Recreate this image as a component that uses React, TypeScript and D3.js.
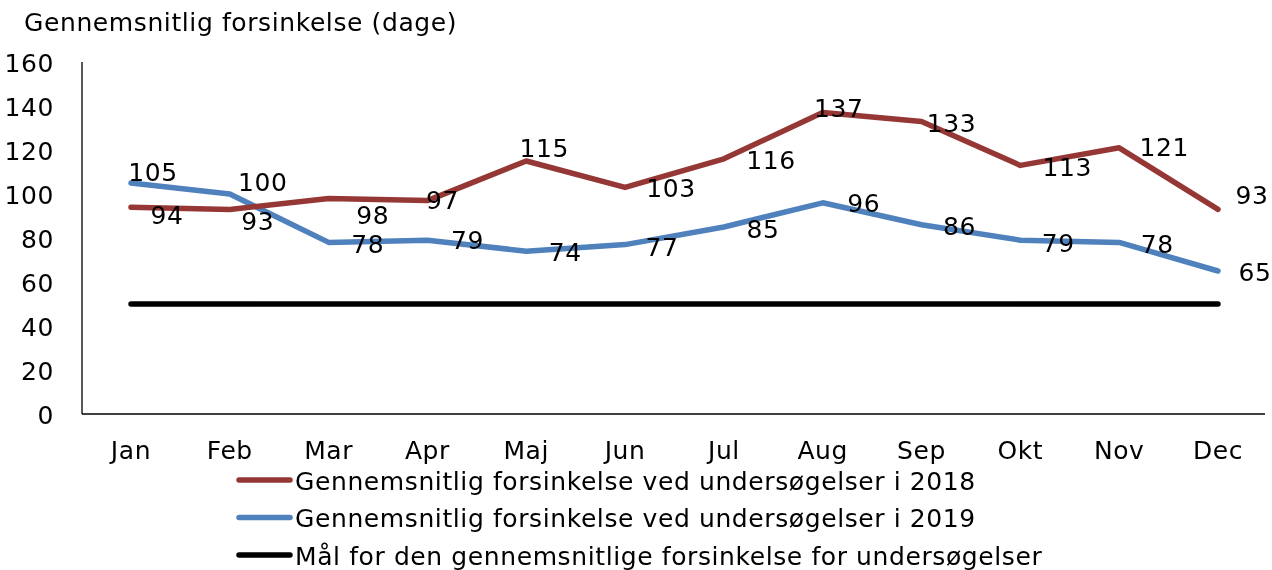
import React, { useEffect, useRef } from 'react';
import * as d3 from 'd3';

const months = ['Jan', 'Feb', 'Mar', 'Apr', 'Maj', 'Jun', 'Jul', 'Aug', 'Sep', 'Okt', 'Nov', 'Dec'];
const delay2018 = [94, 93, 98, 97, 115, 103, 116, 137, 133, 113, 121, 93];
const delay2019 = [105, 100, 78, 79, 74, 77, 85, 96, 86, 79, 78, 65];
const target = [50, 50, 50, 50, 50, 50, 50, 50, 50, 50, 50, 50];
const yTicks = [0, 20, 40, 60, 80, 100, 120, 140, 160];

const seriesNames = [
    'Gennemsnitlig forsinkelse ved undersøgelser i 2018',
    'Gennemsnitlig forsinkelse ved undersøgelser i 2019',
    'Mål for den gennemsnitlige forsinkelse for undersøgelser',
];

// label nudges (px) from the data point, like Excel's hand-placed labels
const offsets2018: [number, number][] = [
    [36, 8], [28, 12], [44, 17], [15, 0], [18, -13], [46, 1],
    [47, 2], [16, -4], [30, 2], [47, 2], [45, 0], [34, -14],
];
const offsets2019: [number, number][] = [
    [22, -11], [33, -12], [39, 2], [40, 0], [39, 1], [37, 3],
    [39, 2], [41, 1], [38, 2], [38, 3], [38, 2], [37, 1],
];

const FONT = '"DejaVu Sans", Verdana, sans-serif';
const RED = '#953735';
const BLUE = '#4F81BD';

export default function App() {
    const svgRef = useRef<SVGSVGElement>(null);

    useEffect(() => {
        if (!svgRef.current) return;
        const svg = d3.select(svgRef.current);
        svg.selectAll('*').remove();

        const x = d3.scalePoint<string>().domain(months).range([131, 1218]);
        const y = d3.scaleLinear().domain([0, 160]).range([414, 62]);

        const g = svg.append('g')
            .style('font-family', FONT)
            .style('font-size', '25px')
            .style('letter-spacing', '0.6px');

        // title
        g.append('text')
            .attr('x', 24)
            .attr('y', 22)
            .attr('dominant-baseline', 'central')
            .text('Gennemsnitlig forsinkelse (dage)');

        // axes lines
        g.append('line')
            .attr('x1', 82).attr('x2', 82)
            .attr('y1', y(160)).attr('y2', y(0))
            .attr('stroke', '#000').attr('stroke-width', 1.3);
        g.append('line')
            .attr('x1', 82).attr('x2', 1265)
            .attr('y1', y(0)).attr('y2', y(0))
            .attr('stroke', '#000').attr('stroke-width', 1.3);

        // y tick labels
        g.selectAll('.ytick')
            .data(yTicks)
            .enter().append('text')
            .attr('x', 54)
            .attr('y', d => y(d) + 1)
            .attr('text-anchor', 'end')
            .attr('dominant-baseline', 'central')
            .text(d => d);

        // x tick labels
        g.selectAll('.xtick')
            .data(months)
            .enter().append('text')
            .attr('x', d => x(d)!)
            .attr('y', 450)
            .attr('text-anchor', 'middle')
            .attr('dominant-baseline', 'central')
            .text(d => d);

        const line = d3.line<number>()
            .x((d, i) => x(months[i])!)
            .y(d => y(d));

        g.append('path')
            .datum(target)
            .attr('fill', 'none')
            .attr('stroke', '#000')
            .attr('stroke-width', 5.5)
            .attr('stroke-linecap', 'round')
            .attr('d', line);

        g.append('path')
            .datum(delay2019)
            .attr('fill', 'none')
            .attr('stroke', BLUE)
            .attr('stroke-width', 5.5)
            .attr('stroke-linecap', 'round')
            .attr('stroke-linejoin', 'round')
            .attr('d', line);

        g.append('path')
            .datum(delay2018)
            .attr('fill', 'none')
            .attr('stroke', RED)
            .attr('stroke-width', 5.5)
            .attr('stroke-linecap', 'round')
            .attr('stroke-linejoin', 'round')
            .attr('d', line);

        // data labels
        const addLabels = (vals: number[], offs: [number, number][]) => {
            g.append('g').selectAll('text')
                .data(vals)
                .enter().append('text')
                .attr('x', (d, i) => x(months[i])! + offs[i][0])
                .attr('y', (d, i) => y(d) + offs[i][1])
                .attr('text-anchor', 'middle')
                .attr('dominant-baseline', 'central')
                .text(d => d);
        };
        addLabels(delay2018, offsets2018);
        addLabels(delay2019, offsets2019);

        // legend
        const colors = [RED, BLUE, '#000'];
        const legend = g.append('g');
        seriesNames.forEach((name, i) => {
            const ly = 480 + i * 37.5;
            legend.append('line')
                .attr('x1', 239).attr('x2', 290)
                .attr('y1', ly).attr('y2', ly)
                .attr('stroke', colors[i])
                .attr('stroke-width', 5.5)
                .attr('stroke-linecap', 'round');
            legend.append('text')
                .attr('x', 295)
                .attr('y', ly + 1)
                .attr('dominant-baseline', 'central')
                .text(name);
        });
    }, []);

    return (
        <div style={{ position: 'fixed', left: 0, top: 0 }}>
            <svg ref={svgRef} width={1272} height={570} />
        </div>
    );
}
